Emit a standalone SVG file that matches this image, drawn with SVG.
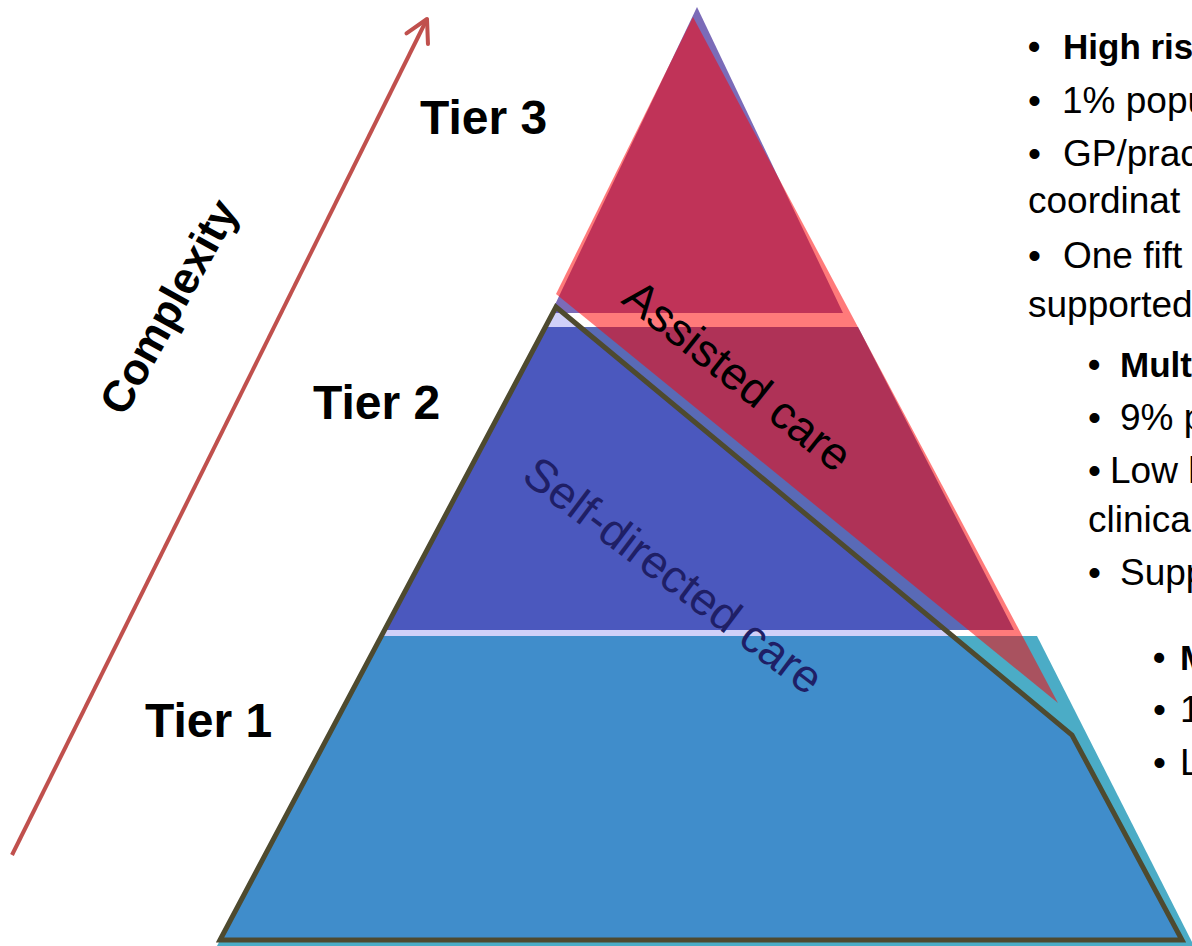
<svg xmlns="http://www.w3.org/2000/svg" width="1192" height="946" viewBox="0 0 1192 946">
  <style>
    .tier { font-family: "Liberation Sans", Arial, sans-serif; font-weight: bold; font-size: 48px; fill: #000; }
    .note { font-family: "Liberation Sans", Arial, sans-serif; font-size: 37px; fill: #000; }
    .noteb { font-family: "Liberation Sans", Arial, sans-serif; font-size: 35px; font-weight: bold; fill: #000; }
    .band-label { font-family: "Liberation Sans", Arial, sans-serif; font-size: 46px; }
    .axis { font-family: "Liberation Sans", Arial, sans-serif; font-weight: bold; font-size: 44px; fill: #000; }
  </style>
  <defs>
    <marker id="openArrow" viewBox="-26 -16 30 32" refX="0" refY="0" markerWidth="30" markerHeight="32" markerUnits="userSpaceOnUse" orient="auto">
      <path d="M-22,-12 L0,0 L-22,12" fill="none" stroke="#C0504D" stroke-width="4" stroke-linecap="round" stroke-linejoin="round"/>
    </marker>
  </defs>
  <rect width="1192" height="946" fill="#FFFFFF"/>

  <!-- base pyramid bands -->
  <g id="tier3-band">
    <polygon points="697,7 551,313 843,313" fill="#7B6BB8"/>
  </g>
  <g id="tier2-band">
    <polygon points="545,327 858,327 1014,630 384,630" fill="#596AB6"/>
  </g>
  <g id="tier1-band">
    <polygon points="381,636 1037,636 1194,946 217,946" fill="#4BACC6"/>
  </g>

  <!-- self-directed care region -->
  <g id="self-directed-care">
    <polygon points="220,940 556,307 1072,735 1182,940" fill="#1414E1" fill-opacity="0.2"/>
  </g>

  <!-- assisted care region -->
  <g id="assisted-care">
    <polygon points="693,17 556,294 1058,703" fill="#FF0000" fill-opacity="0.52"/>
  </g>

  <g id="self-directed-outline">
    <polygon points="220,940 556,307 1072,735 1182,940" fill="none" stroke="#4E4A2F" stroke-width="5" stroke-linejoin="miter"/>
  </g>

  <g id="connectors">
    <line x1="12" y1="855" x2="427" y2="19" stroke="#C0504D" stroke-width="4" marker-end="url(#openArrow)"/>
  </g>

  <g id="complexity-label">
    <text class="axis" text-anchor="middle" transform="translate(182,314) rotate(-61)">Complexity</text>
  </g>

  <g id="region-labels">
    <text class="band-label" fill="#000000" text-anchor="middle" transform="translate(728,388) rotate(38.5)">Assisted care</text>
    <text class="band-label" fill="#1F1F66" font-size="44" text-anchor="middle" transform="translate(664,588) rotate(37)">Self-directed care</text>
  </g>

  <g id="tier-labels">
    <text class="tier" x="420" y="134">Tier 3</text>
    <text class="tier" x="313" y="419">Tier 2</text>
    <text class="tier" x="145" y="737">Tier 1</text>
  </g>

  <g id="notes-tier3">
    <text class="noteb" y="59"><tspan x="1028">•</tspan><tspan x="1063">High ris</tspan></text>
    <text class="note" y="113"><tspan x="1028">•</tspan><tspan x="1062">1% popu</tspan></text>
    <text class="note" y="166"><tspan x="1028">•</tspan><tspan x="1063">GP/prac</tspan></text>
    <text class="note" x="1028" y="213">coordinat</text>
    <text class="note" y="268"><tspan x="1028">•</tspan><tspan x="1063">One fift</tspan></text>
    <text class="note" x="1028" y="317">supported</text>
  </g>

  <g id="notes-tier2">
    <text class="noteb" y="377"><tspan x="1088">•</tspan><tspan x="1120">Mult</tspan></text>
    <text class="note" y="430"><tspan x="1088">•</tspan><tspan x="1120">9% p</tspan></text>
    <text class="note" y="483"><tspan x="1088">•</tspan><tspan x="1110">Low l</tspan></text>
    <text class="note" x="1088" y="532">clinica</text>
    <text class="note" y="585"><tspan x="1088">•</tspan><tspan x="1120">Supp</tspan></text>
  </g>

  <g id="notes-tier1">
    <text class="noteb" y="670"><tspan x="1153">•</tspan><tspan x="1180">M</tspan></text>
    <text class="note" y="722"><tspan x="1153">•</tspan><tspan x="1180">1</tspan></text>
    <text class="note" y="775"><tspan x="1153">•</tspan><tspan x="1180">L</tspan></text>
  </g>
</svg>
